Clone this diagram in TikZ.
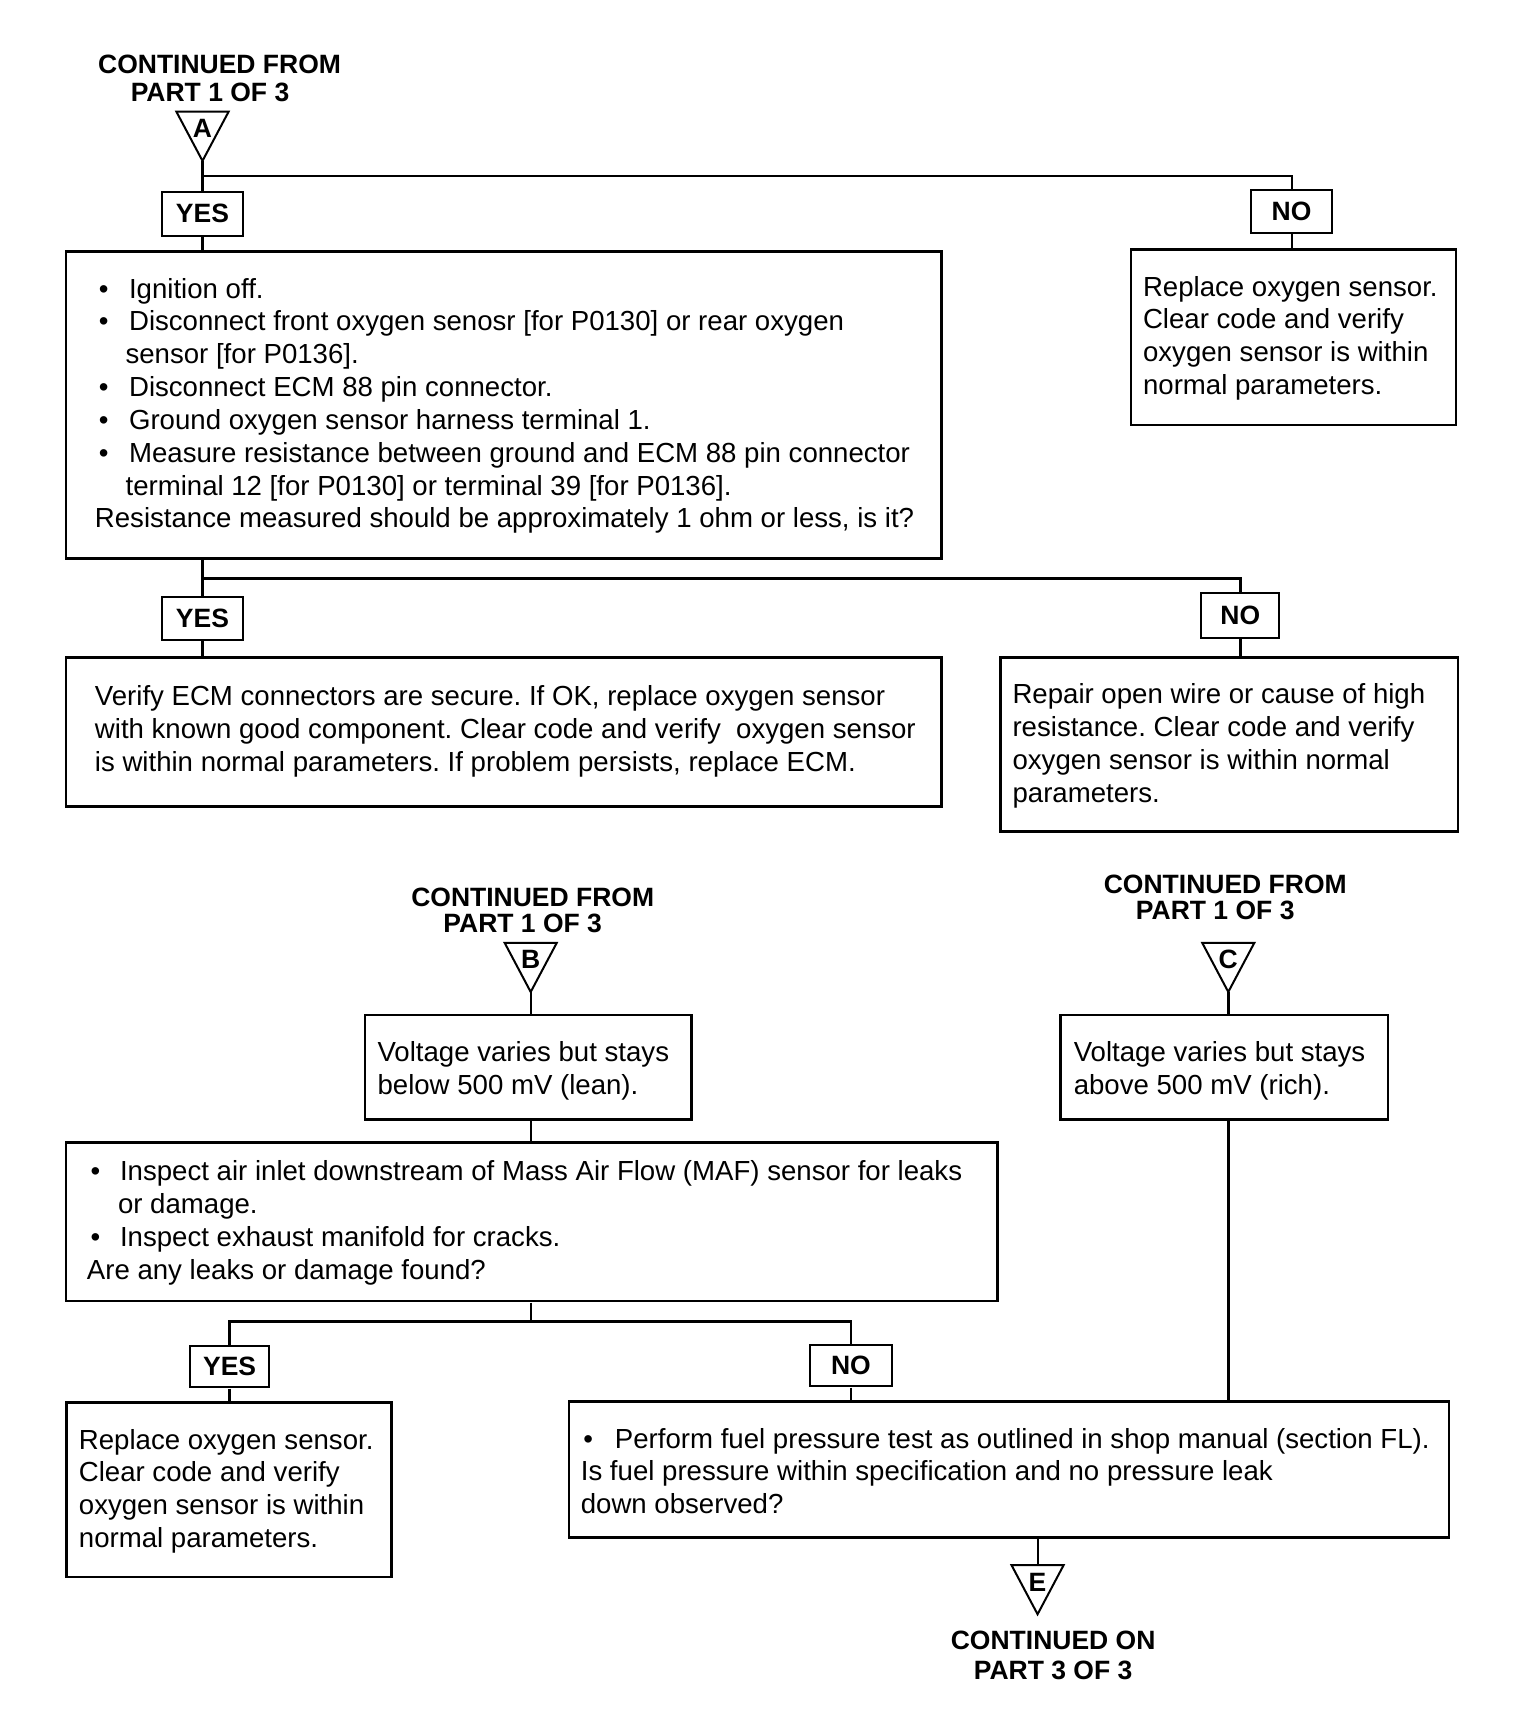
\documentclass[tikz,border=0pt]{standalone}
\usepackage{fontspec}
\setmainfont{Liberation Sans}
\newcommand{\bulx}[2]{\hspace*{#1}\makebox[#2][l]{\textbullet}}
\newcommand{\flowtri}[4]{%
  \draw[trishape] (#2-26,#3) -- (#2+26,#3) -- (#2,#3+49) -- cycle;
  \coordinate (#1) at (#2,#3+49);
  \coordinate (#1top) at (#2,#3);
  \node[hdr] (#1l) at (#2,#3+17) {#4};
}
\begin{document}
\frenchspacing
\begin{tikzpicture}[x=1pt,y=-1pt,
  box/.style={draw, line width=2.7pt, inner sep=0pt, rectangle},
  lbl/.style={draw, line width=2pt, inner sep=0pt, rectangle, font=\bfseries\fontsize{26.4}{30}\selectfont},
  txt/.style={inner sep=0pt, align=left, font=\frenchspacing\fontsize{27.5}{32.7}\selectfont, anchor=west, yshift=-1pt},
  hdr/.style={inner sep=0pt, font=\bfseries\fontsize{26.4}{30}\selectfont},
  conn/.style={line width=2.6pt},
  trishape/.style={draw, line width=2pt, line join=miter},
]
\useasboundingbox[fill=white] (0,0) rectangle (1536,1714);

\begin{scope}[shift={(66,192)}, scale=1.0037, transform shape, shift={(-66,-192)}]
% ---------- header A ----------
\node[hdr] (hA1) at (219,65) {CONTINUED FROM};
\node[hdr] (hA2) at (209.5,93) {PART 1 OF 3};
\flowtri{apA}{202}{112}{A}
\coordinate (jA) at (202,176);

\node[lbl, minimum width=81pt, minimum height=44pt] (yes1) at (202,213.5) {YES};
\node[lbl, minimum width=80pt, minimum height=43pt] (no1) at (1287,211.5) {NO};

\node[box, minimum width=872pt, minimum height=306pt] (b1) at (502,404) {};
\node[txt] (t1) at ([xshift=30pt]b1.west) {%
\bulx{4pt}{30pt}Ignition off.\\
\bulx{4pt}{30pt}Disconnect front oxygen senosr [for P0130] or rear oxygen\\
\hspace*{30.5pt}sensor [for P0136].\\
\bulx{4pt}{30pt}Disconnect ECM 88 pin connector.\\
\bulx{4pt}{30pt}Ground oxygen sensor harness terminal 1.\\
\bulx{4pt}{30pt}Measure resistance between ground and ECM 88 pin connector\\
\hspace*{30.5pt}terminal 12 [for P0130] or terminal 39 [for P0136].\\
Resistance measured should be approximately 1 ohm or less, is it?};

\node[box, minimum width=324pt, minimum height=175pt] (rb1) at (1289,336.5) {};
\node[txt] (trb1) at ([xshift=13pt]rb1.west) {Replace oxygen sensor.\\
Clear code and verify\\
oxygen sensor is within\\
normal parameters.};

\draw[conn] (apA) -- (yes1.north);
\draw[conn] (jA) -| (no1.north);
\draw[conn] (yes1.south) -- (yes1.south |- b1.north);
\draw[conn] (no1.south) -- (no1.south |- rb1.north);

% ---------- second level ----------
\coordinate (jB) at (202,577);
\node[lbl, minimum width=81pt, minimum height=43pt] (yes2) at (202,617) {YES};
\node[lbl, minimum width=78pt, minimum height=44pt] (no2) at (1236,614) {NO};

\node[box, minimum width=872pt, minimum height=148pt] (b2) at (502,730) {};
\node[txt, yshift=2pt] (t2) at ([xshift=30pt]b2.west) {Verify ECM connectors are secure. If OK, replace oxygen sensor\\
with known good component. Clear code and verify\ \ oxygen sensor\\
is within normal parameters. If problem persists, replace ECM.};

\node[box, minimum width=456pt, minimum height=173pt] (b3) at (1225,742.5) {};
\node[txt] (t3) at ([xshift=13pt]b3.west) {Repair open wire or cause of high\\
resistance. Clear code and verify\\
oxygen sensor is within normal\\
parameters.};

\draw[conn] (b1.south -| yes2.north) -- (yes2.north);
\draw[conn] (jB) -| (no2.north);
\draw[conn] (yes2.south) -- (yes2.south |- b2.north);
\draw[conn] (no2.south) -- (no2.south |- b3.north);

% ---------- header B ----------
\node[hdr] (hB1) at (531,894.5) {CONTINUED FROM};
\node[hdr] (hB2) at (521,921) {PART 1 OF 3};
\flowtri{apB}{529}{940}{B}

\node[box, minimum width=325.5pt, minimum height=104pt] (lean) at (526.75,1064) {};
\node[txt, yshift=-2pt] (tlean) at ([xshift=13.5pt]lean.west) {Voltage varies but stays\\
below 500 mV (lean).};

% ---------- header C ----------
\node[hdr] (hC1) at (1221,881.5) {CONTINUED FROM};
\node[hdr] (hC2) at (1211,908) {PART 1 OF 3};
\flowtri{apC}{1224}{940}{C}

\node[box, minimum width=326pt, minimum height=104pt] (rich) at (1220,1064) {};
\node[txt, yshift=-2pt] (trich) at ([xshift=14pt]rich.west) {Voltage varies but stays\\
above 500 mV (rich).};

% ---------- inspect ----------
\node[box, minimum width=928pt, minimum height=158pt] (insp) at (530,1218) {};
\node[txt] (tinsp) at ([xshift=22pt]insp.west) {%
\bulx{3.6pt}{29.4pt}Inspect air inlet downstream of Mass Air Flow (MAF) sensor for leaks\\
\hspace*{31pt}or damage.\\
\bulx{3.6pt}{29.4pt}Inspect exhaust manifold for cracks.\\
Are any leaks or damage found?};

\draw[conn] (apB) -- (apB |- lean.north);
\draw[conn] (apB |- lean.south) -- (apB |- insp.north);

% ---------- third level ----------
\coordinate (jC) at (529,1317);
\node[lbl, minimum width=79pt, minimum height=41pt] (yes3) at (229,1362.5) {YES};
\node[lbl, minimum width=81pt, minimum height=41pt] (no3) at (848,1361.5) {NO};

\node[box, minimum width=324pt, minimum height=173.5pt] (b4) at (228.5,1485) {};
\node[txt] (t4) at ([xshift=13.5pt]b4.west) {Replace oxygen sensor.\\
Clear code and verify\\
oxygen sensor is within\\
normal parameters.};

\node[box, minimum width=877pt, minimum height=135.5pt] (fuel) at (1005.5,1465) {};
\node[txt] (tfuel) at ([xshift=13pt]fuel.west) {%
\bulx{2.5pt}{31.5pt}Perform fuel pressure test as outlined in shop manual (section FL).\\
Is fuel pressure within specification and no pressure leak\\
down observed?};

\draw[conn] (apB |- insp.south) -- (jC);
\draw[conn] (yes3.north) |- (jC) -| (no3.north);
\draw[conn] (yes3.south) -- (yes3.south |- b4.north);
\draw[conn] (no3.south) -- (no3.south |- fuel.north);

\draw[conn] (apC) -- (apC |- rich.north);
\draw[conn] (apC |- rich.south) -- (apC |- fuel.north);

% ---------- continuation E ----------
\flowtri{apE}{1034}{1560}{E}
\draw[conn] (fuel.south -| apEtop) -- (apEtop);
\node[hdr] (hE1) at (1049.5,1635.3) {CONTINUED ON};
\node[hdr] (hE2) at (1049.5,1664.7) {PART 3 OF 3};
\end{scope}

\end{tikzpicture}
\end{document}
